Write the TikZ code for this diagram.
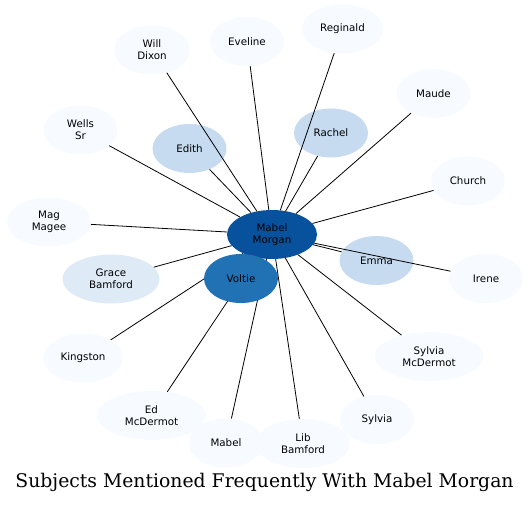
\documentclass[tikz,border=0pt]{standalone}
\usepackage{fontspec}
\usepackage{xcolor}
\usepackage{tikz}
\usetikzlibrary{shapes.geometric, backgrounds}
\newfontfamily\subjfont{DejaVu Sans}
\newfontfamily\titlefont{DejaVu Serif}
\definecolor{SubjHub}{RGB}{8, 81, 156}
\definecolor{SubjStrong}{RGB}{33, 113, 181}
\definecolor{SubjMid}{RGB}{198, 219, 239}
\definecolor{SubjLight}{RGB}{222, 235, 247}
\definecolor{SubjFaint}{RGB}{247, 251, 255}

\begin{document}
\begin{tikzpicture}[x=1pt, y=-1pt,
    subject/.style={ellipse, fill=SubjFaint, minimum width=74pt, minimum height=49pt,
      inner sep=0pt, align=center, font=\subjfont\fontsize{10.3}{11.7}\selectfont},
    link/.style={black, line width=0.8pt}]
    \path[use as bounding box] (0,0) rectangle (529,504);
    % hub and the subjects round it
    \node[subject, fill=SubjHub, minimum width=90pt] (mabelmorgan) at (272,234.5) {Mabel\\Morgan};
    \node[subject, fill=SubjStrong] (voltie) at (241,278.5) {Voltie};
    \node[subject, fill=SubjMid] (edith) at (189.5,148.5) {Edith};
    \node[subject, fill=SubjMid] (rachel) at (331,133) {Rachel};
    \node[subject, fill=SubjMid] (emma) at (376.5,260.5) {Emma};
    \node[subject, fill=SubjLight, minimum width=97pt] (gracebamford) at (111,279) {Grace\\Bamford};
    \node[subject, minimum width=76pt] (willdixon) at (152,50) {Will\\Dixon};
    \node[subject] (eveline) at (247,41.5) {Eveline};
    \node[subject, minimum width=81pt] (reginald) at (342.5,29) {Reginald};
    \node[subject] (maude) at (433.5,93.5) {Maude};
    \node[subject] (wellssr) at (80.5,130) {Wells\\Sr};
    \node[subject] (church) at (468,181) {Church};
    \node[subject, minimum width=84pt] (magmagee) at (49,222) {Mag\\Magee};
    \node[subject] (irene) at (486,278.5) {Irene};
    \node[subject, minimum width=109pt] (sylviamcdermot) at (429,356.5) {Sylvia\\McDermot};
    \node[subject, minimum width=80pt] (kingston) at (83,358) {Kingston};
    \node[subject, minimum width=109pt] (edmcdermot) at (151.5,415.5) {Ed\\McDermot};
    \node[subject] (sylvia) at (377,419.5) {Sylvia};
    \node[subject] (mabel) at (226,443) {Mabel};
    \node[subject, minimum width=94pt] (libbamford) at (303,443.5) {Lib\\Bamford};
    % links that run under Voltie
    \begin{scope}[on background layer]
      \foreach \subj in {voltie, kingston, edmcdermot, mabel}
        \draw[link] (mabelmorgan) -- (\subj);
    \end{scope}
    \foreach \subj in {edith, rachel, emma, gracebamford, willdixon, eveline, reginald,
        maude, wellssr, church, magmagee, irene, sylviamcdermot, sylvia, libbamford}
      \draw[link] (mabelmorgan) -- (\subj);
    \node[anchor=base, font=\titlefont\fontsize{18.8}{22}\selectfont] (title) at (264.5,487)
      {Subjects Mentioned Frequently With Mabel Morgan};
\end{tikzpicture}
\end{document}
